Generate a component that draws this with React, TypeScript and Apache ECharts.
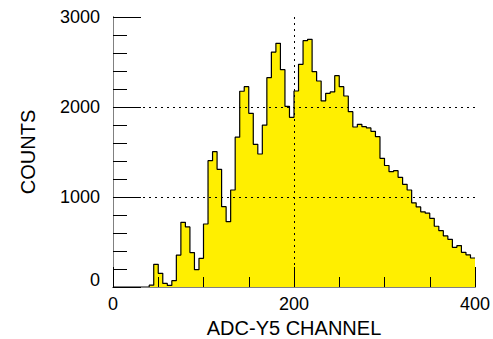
import React, { useEffect, useRef } from "react";
import * as echarts from "echarts";

// ADC-Y5 channel spectrum, 5-channel bins from 0 to 400
const BIN_WIDTH = 5;
const X_MIN = 0;
const X_MAX = 400;
const Y_MIN = 0;
const Y_MAX = 3000;

const COUNTS: number[] = [
  0, 0, 0, 0, 0, 0, 0, 0,
  20, 252, 152, 40, 18, 70, 355, 719, 667, 383,
  192, 319, 700, 1404, 1504, 1307, 893, 726, 1078, 1665,
  2175, 2226, 1930, 1585, 1478, 1798, 2326, 2610, 2707, 2415,
  2008, 1885, 2178, 2474, 2737, 2752, 2393, 2289, 2067, 2152,
  2167, 2348, 2226, 2122, 1948, 1778, 1807, 1781, 1767, 1730,
  1670, 1430, 1350, 1281, 1293, 1219, 1141, 1078, 935, 890,
  835, 820, 763, 675, 626, 567, 530, 441, 460, 385,
  358, 322,
];

const X_TITLE = "ADC-Y5 CHANNEL";
const Y_TITLE = "COUNTS";

const FONT = "'Liberation Sans', Arial, Helvetica, sans-serif";
const FILL = "#FFEF00";

export default function App() {
  const ref = useRef<HTMLDivElement>(null);

  useEffect(() => {
    if (!ref.current) return;
    const chart = echarts.init(ref.current, undefined, { renderer: "svg" });

    // step outline: each point is a bin's lower edge; closing point at the last upper edge
    const stepData: [number, number][] = COUNTS.map((c, i) => [X_MIN + i * BIN_WIDTH, c]);
    stepData.push([X_MIN + COUNTS.length * BIN_WIDTH, COUNTS[COUNTS.length - 1]]);

    const dotted = { color: "#000", width: 1, type: [2, 4] as number[] };

    chart.setOption({
      animation: false,
      backgroundColor: "#fff",
      grid: {
        left: 113,
        right: 18,
        top: 17,
        bottom: 52,
        containLabel: false,
        outerBoundsMode: "none",
      },
      xAxis: [
        {
          type: "value",
          min: X_MIN,
          max: X_MAX,
          interval: 200,
          z: 5,
          axisLine: { show: true, lineStyle: { color: "#000", width: 1 } },
          axisTick: { show: true, inside: true, length: 20, lineStyle: { color: "#000" } },
          minorTick: { show: true, splitNumber: 4, length: 10, lineStyle: { color: "#000" } },
          axisLabel: {
            margin: 8,
            fontSize: 18,
            color: "#000",
            fontFamily: FONT,
            formatter: (v: number) => String(v),
          },
          splitLine: { show: true, showMinLine: false, showMaxLine: false, lineStyle: dotted },
          name: X_TITLE,
          nameLocation: "middle",
          nameGap: 30,
          nameTextStyle: { fontSize: 20, color: "#000", fontFamily: FONT },
        },
        {
          type: "value",
          position: "top",
          min: X_MIN,
          max: X_MAX,
          z: 5,
          axisLine: { show: true, lineStyle: { color: "#808080", width: 1 } },
          axisTick: { show: false },
          axisLabel: { show: false },
          splitLine: { show: false },
        },
      ],
      yAxis: [
        {
          type: "value",
          min: Y_MIN,
          max: Y_MAX,
          interval: 1000,
          z: 5,
          axisLine: { show: true, lineStyle: { color: "#000", width: 1 } },
          axisTick: { show: true, inside: true, length: 28, lineStyle: { color: "#000" } },
          minorTick: { show: true, splitNumber: 5, length: 14, lineStyle: { color: "#000" } },
          axisLabel: {
            margin: 13,
            fontSize: 18,
            color: "#000",
            fontFamily: FONT,
            formatter: (v: number) => (v === 0 ? "{lo|0}" : String(v)),
            rich: {
              lo: { fontSize: 18, fontFamily: FONT, color: "#000", padding: [0, 0, 14, 0] },
            },
          },
          splitLine: { show: true, showMinLine: false, showMaxLine: false, lineStyle: dotted },
          name: Y_TITLE,
          nameLocation: "middle",
          nameGap: 75,
          nameTextStyle: { fontSize: 20, color: "#000", fontFamily: FONT },
        },
        {
          type: "value",
          position: "right",
          min: Y_MIN,
          max: Y_MAX,
          z: 5,
          axisLine: { show: true, lineStyle: { color: "#808080", width: 1 } },
          axisTick: { show: false },
          axisLabel: { show: false },
          splitLine: { show: false },
        },
      ],
      series: [
        {
          type: "line",
          step: "end",
          xAxisIndex: 0,
          yAxisIndex: 0,
          data: stepData,
          symbol: "none",
          lineStyle: { color: "#000", width: 1.2 },
          areaStyle: { color: FILL, opacity: 1, origin: "start" },
          z: 2,
        },
      ],
    });

    return () => chart.dispose();
  }, []);

  return (
    <div
      ref={ref}
      style={{ position: "fixed", left: 0, top: 0, width: 493, height: 339, background: "#fff" }}
    />
  );
}
